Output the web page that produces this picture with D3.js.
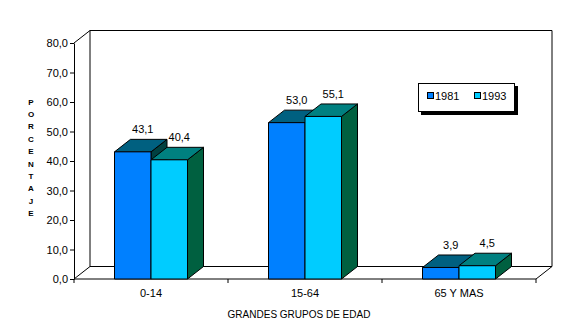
<!DOCTYPE html>
<html><head><meta charset="utf-8">
<script src="https://cdn.jsdelivr.net/npm/d3@7"></script>
<style>
html,body{margin:0;padding:0;background:#fff;}
svg{display:block;font-family:Arial,"Liberation Sans",sans-serif;}
</style></head>
<body>
<svg id="c" width="574" height="328"></svg>
<script>
const categories = ["0-14", "15-64", "65 Y MAS"];
const seriesNames = ["1981", "1993"];
const values1981 = [43.1, 53.0, 3.9];
const values1993 = [40.4, 55.1, 4.5];
const yTicks = [0, 10, 20, 30, 40, 50, 60, 70, 80];
const yTitle = "PORCENTAJE";
const xTitle = "GRANDES GRUPOS DE EDAD";

const colors = {
  "1981": {front: "#0080FF", top: "#006080", side: "#004040"},
  "1993": {front: "#00CCFF", top: "#008080", side: "#006040"}
};

const svg = d3.select("#c");
const DX = 16, DY = -12.5;
const x0 = d3.scaleBand().domain(categories).range([74, 536]);
const x1 = d3.scaleBand().domain(seriesNames).range([-36.5, 36.5]);
const y = d3.scaleLinear().domain([0, 80]).range([279, 43]);

const fmt = v => v.toFixed(1).replace(".", ",");

// back wall and floor
const L = 74, R = 536, B = y(0), T = y(80);
const g = svg.append("g").attr("fill", "none").attr("stroke", "#000").attr("stroke-width", 1);
g.append("path").attr("d", `M${L+DX},${B+DY}V${T+DY}H${R+DX}V${B+DY}H${L+DX}`);
g.append("path").attr("d", `M${L},${T}L${L+DX},${T+DY}`);
g.append("path").attr("d", `M${L},${B}L${L+DX},${B+DY}`);
g.append("path").attr("d", `M${R},${B}L${R+DX},${B+DY}`);
g.append("path").attr("d", `M${L},${B}H${R}`);

// y axis
const yAxis = svg.append("g").attr("transform", `translate(${L},0)`)
  .call(d3.axisLeft(y).tickValues(yTicks).tickFormat(fmt).tickSize(4).tickPadding(2).tickSizeOuter(0));
yAxis.select(".domain").attr("stroke", "#000");
yAxis.selectAll("text").attr("font-size", 11).attr("fill", "#000").attr("font-family", "Arial, 'Liberation Sans', sans-serif");

// x category ticks
const xAxis = svg.append("g").attr("transform", `translate(0,${B})`);
const bounds = categories.map(c => x0(c)).concat([R]);
xAxis.selectAll("line").data(bounds).join("line")
  .attr("x1", d => d).attr("x2", d => d).attr("y1", 0).attr("y2", 4)
  .attr("stroke", "#000");
xAxis.selectAll("text").data(categories).join("text")
  .attr("x", d => x0(d) + x0.bandwidth() / 2).attr("y", 18)
  .attr("text-anchor", "middle").attr("font-size", 11).text(d => d);

// bars
const data = [];
categories.forEach((c, i) => {
  data.push({cat: c, s: "1981", v: values1981[i]});
  data.push({cat: c, s: "1993", v: values1993[i]});
});
const bars = svg.append("g");
data.forEach(d => {
  const xa = x0(d.cat) + x0.bandwidth() / 2 + x1(d.s);
  const xb = xa + x1.bandwidth();
  const yt = y(d.v), yb = y(0);
  const c = colors[d.s];
  const bg = bars.append("g").attr("stroke", "#000").attr("stroke-width", 1).attr("stroke-linejoin", "round");
  bg.append("path").attr("fill", c.side)
    .attr("d", `M${xb},${yb}L${xb+DX},${yb+DY}L${xb+DX},${yt+DY}L${xb},${yt}Z`);
  bg.append("path").attr("fill", c.top)
    .attr("d", `M${xa},${yt}L${xa+DX},${yt+DY}L${xb+DX},${yt+DY}L${xb},${yt}Z`);
  bg.append("rect").attr("fill", c.front)
    .attr("x", xa).attr("y", yt).attr("width", xb - xa).attr("height", yb - yt);
});
// value labels
svg.append("g").selectAll("text").data(data).join("text")
  .attr("x", d => x0(d.cat) + x0.bandwidth() / 2 + x1(d.s) + x1.bandwidth() / 2 + DX / 2 + 2)
  .attr("y", d => y(d.v) + DY - 6)
  .attr("text-anchor", "middle").attr("font-size", 11).text(d => fmt(d.v));

// y title vertical letters
svg.append("g").selectAll("text").data(yTitle.split("")).join("text")
  .attr("x", 31).attr("y", (d, i) => 104.5 + i * 12.4)
  .attr("text-anchor", "middle").attr("font-size", 8).attr("font-weight", "bold").text(d => d);

// x title
svg.append("text").attr("x", 299).attr("y", 318).attr("text-anchor", "middle")
  .attr("font-size", 10).text(xTitle);

// legend
const lg = svg.append("g");
lg.append("rect").attr("x", 421).attr("y", 86).attr("width", 97).attr("height", 29).attr("fill", "#000");
lg.append("rect").attr("x", 418.5).attr("y", 83.5).attr("width", 96).attr("height", 28).attr("fill", "#fff").attr("stroke", "#000");
const lx = [427, 474];
seriesNames.forEach((s, i) => {
  lg.append("rect").attr("x", lx[i] + 0.5).attr("y", 92.5).attr("width", 6).attr("height", 6)
    .attr("fill", colors[s].front).attr("stroke", "#000");
  lg.append("text").attr("x", lx[i] + 8).attr("y", 100).attr("font-size", 11).text(s);
});
</script>
</body></html>
